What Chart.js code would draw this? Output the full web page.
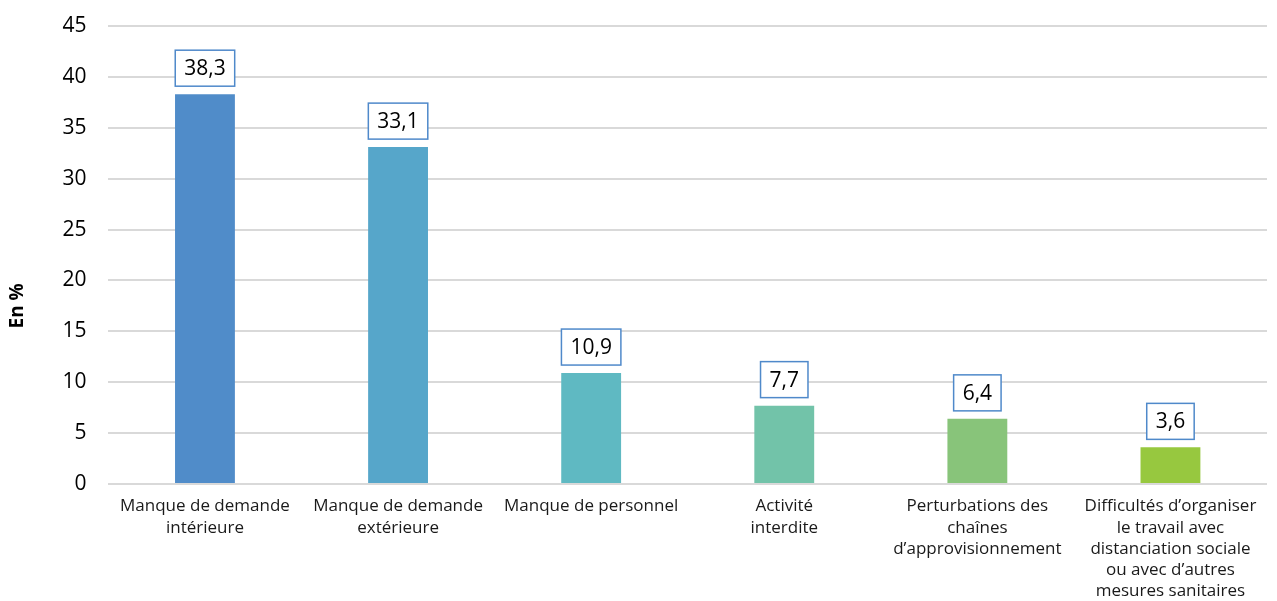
<!DOCTYPE html>
<html><head><meta charset="utf-8">
<script src="https://cdn.jsdelivr.net/npm/chart.js@4"></script>
<style>html,body{margin:0;padding:0;background:#fff;}#wrap{width:1277px;height:601px;}</style>
</head><body><div id="wrap"><canvas id="c" width="1277" height="601"></canvas></div>
<script>
const categories = [
  ["Manque de demande", "intérieure"],
  ["Manque de demande", "extérieure"],
  ["Manque de personnel"],
  ["Activité", "interdite"],
  ["Perturbations des", "chaînes", "d’approvisionnement"],
  ["Difficultés d’organiser", "le travail avec", "distanciation sociale", "ou avec d’autres", "mesures sanitaires"]
];
const values = [38.3, 33.1, 10.9, 7.7, 6.4, 3.6];
const barColors = ["#508cc9", "#56a6ca", "#5fb9c2", "#72c3a9", "#88c47a", "#97c83f"];
const yTicks = [0, 5, 10, 15, 20, 25, 30, 35, 40, 45];
const yTitle = "En %";
const FONT = "'Open Sans', 'Noto Sans', sans-serif";

const boxLabels = {
  id: 'boxLabels',
  afterDatasetsDraw(chart) {
    const ctx = chart.ctx;
    const meta = chart.getDatasetMeta(0);
    ctx.save();
    ctx.font = "21px " + FONT;
    ctx.textAlign = 'center';
    ctx.textBaseline = 'middle';
    meta.data.forEach((bar, i) => {
      const txt = values[i].toFixed(1).replace('.', ',');
      const w = ctx.measureText(txt).width + 18;
      const h = 36;
      const x = bar.x - w / 2;
      const y = bar.y - 8 - h;
      ctx.fillStyle = '#fff';
      ctx.fillRect(x, y, w, h);
      ctx.strokeStyle = '#4f89ca';
      ctx.lineWidth = 1.5;
      ctx.strokeRect(x, y, w, h);
      ctx.fillStyle = '#000';
      ctx.fillText(txt, bar.x, y + h / 2 + 1);
    });
    // y-axis title, placed as in the reference (slightly below the plot centre)
    const yScale = chart.scales.y;
    const cy = yScale.getPixelForValue(17.5);
    ctx.translate(18, cy);
    ctx.rotate(-Math.PI / 2);
    ctx.font = "bold 19px " + FONT;
    ctx.fillStyle = '#000';
    ctx.fillText(yTitle, 0, 0);
    ctx.restore();
  }
};

new Chart(document.getElementById('c'), {
  type: 'bar',
  data: {
    labels: categories,
    datasets: [{ data: values, backgroundColor: barColors, barPercentage: 0.62, categoryPercentage: 0.5 }]
  },
  options: {
    responsive: false,
    animation: false,
    layout: { padding: { top: 26, right: 10, left: 8, bottom: 0 } },
    plugins: { legend: { display: false }, tooltip: { enabled: false } },
    scales: {
      x: {
        grid: { display: false, drawTicks: false },
        border: { display: false },
        afterFit(axis) { axis.height = 117; },
        ticks: { color: '#1a1a1a', font: { family: FONT, size: 17, lineHeight: 1.25 }, maxRotation: 0, minRotation: 0, autoSkip: false, padding: 12 }
      },
      y: {
        min: 0, max: 45,
        afterBuildTicks(axis) { axis.ticks = yTicks.map(v => ({ value: v })); },
        afterFit(axis) { axis.paddingTop = 0; axis.paddingBottom = 0; },
        grid: { color: '#d9d9d9', lineWidth: 2, drawTicks: false },
        border: { display: false },
        ticks: { color: '#000', font: { family: FONT, size: 21 }, padding: 22 },
        title: { display: true, text: yTitle, color: 'rgba(0,0,0,0)', font: { family: FONT, size: 17, weight: 'bold' }, padding: { top: 0, bottom: 12 } }
      }
    }
  },
  plugins: [boxLabels]
});
</script></body></html>
